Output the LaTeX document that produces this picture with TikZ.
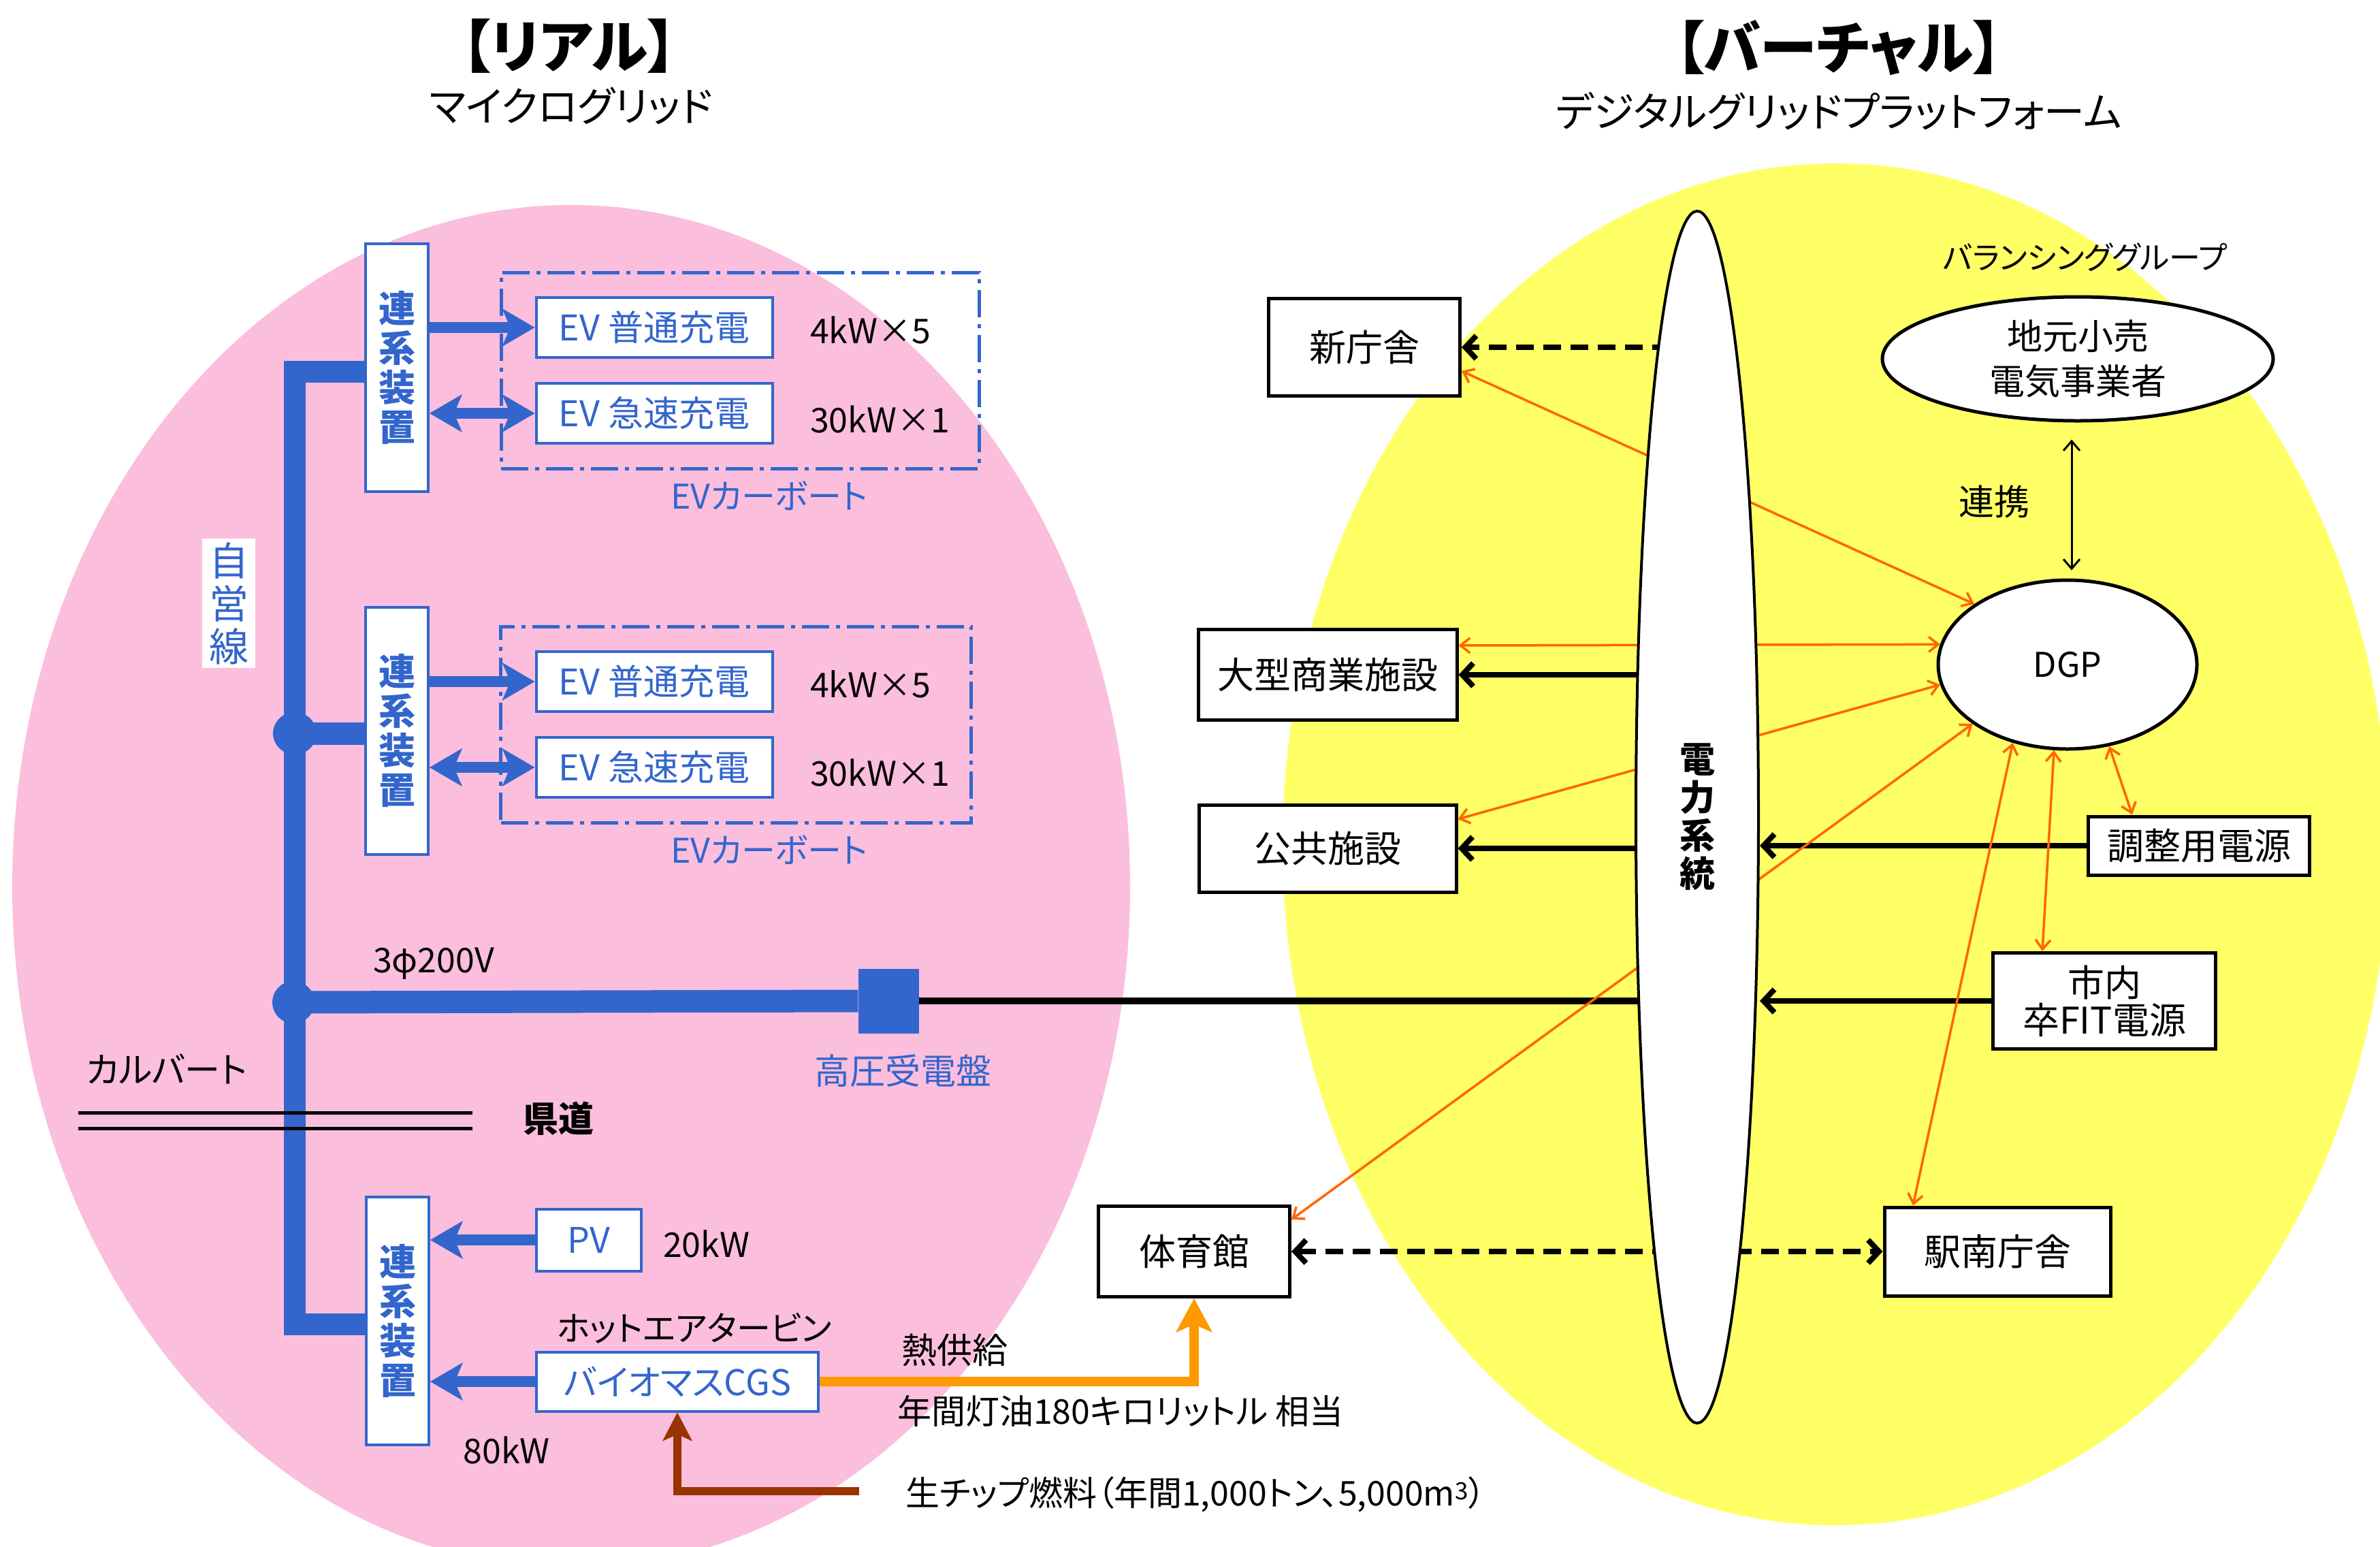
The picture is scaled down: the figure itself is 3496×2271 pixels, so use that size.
\documentclass[tikz,border=0pt]{standalone}
\usepackage{fontspec}
\setmainfont{Noto Sans CJK JP}[RawFeature=+palt]
\usetikzlibrary{arrows.meta,shapes.geometric,calc}
\pgfdeclarelayer{bg}\pgfdeclarelayer{conn}\pgfsetlayers{bg,conn,main}
\definecolor{mblue}{HTML}{3366CC}
\definecolor{mpink}{HTML}{FBBEDD}
\definecolor{myellow}{HTML}{FFFF66}
\definecolor{morange}{HTML}{FF6600}
\definecolor{mheat}{HTML}{FF9900}
\definecolor{mbrown}{HTML}{993300}
\newcommand\fz[1]{\fontsize{#1}{#1}\selectfont}
\begin{document}
\begin{tikzpicture}[x=1pt,y=-1pt,
  bluebox/.style={draw=mblue,line width=4pt,fill=white,inner sep=0pt,text=mblue},
  blackbox/.style={draw=black,line width=5pt,fill=white,inner sep=0pt,font=\fz{54}},
  lbl/.style={inner sep=0pt},
  carport/.style={draw=mblue,line width=5pt,dash pattern=on 40pt off 10pt on 6pt off 10pt,inner sep=0pt},
  bluearr/.style={mblue,line width=16pt,-{Stealth[length=48pt,width=56pt,inset=12pt,line width=1pt]}},
  bluedbl/.style={mblue,line width=16pt,{Stealth[length=48pt,width=56pt,inset=12pt,line width=1pt]}-{Stealth[length=48pt,width=56pt,inset=12pt,line width=1pt]}},
  blk/.style={line width=8pt,-{Straight Barb[length=16pt,width=34pt]}},
  blkdbl/.style={line width=8pt,{Straight Barb[length=16pt,width=34pt]}-{Straight Barb[length=16pt,width=34pt]}},
  orng/.style={morange,line width=3.5pt,{Straight Barb[length=14pt,width=22pt]}-{Straight Barb[length=14pt,width=22pt]}},
  dsh/.style={dash pattern=on 26pt off 14pt}
]
\useasboundingbox (0,0) rectangle (3496,2271);

% ---------- backgrounds ----------
\begin{pgfonlayer}{bg}
\fill[mpink] (839,1302) ellipse [x radius=821pt, y radius=1001pt];
\fill[myellow] (2696,1240) ellipse [x radius=812pt, y radius=1000pt];
\node[carport,minimum width=702pt,minimum height=288pt] (cp1) at (1087,544) {};
\node[carport,minimum width=691pt,minimum height=288pt] (cp2) at (1081,1064) {};
\end{pgfonlayer}

% ---------- titles ----------
\node[lbl,font=\fz{84}\bfseries] (t1) at (836,68) {【リアル】};
\node[lbl,font=\fz{60}] (t1b) at (839,156) {マイクログリッド};
\node[lbl,font=\fz{84}\bfseries] (t2) at (2701,70) {【バーチャル】};
\node[lbl,font=\fz{60}] (t2b) at (2701,163) {デジタルグリッドプラットフォーム};

% ---------- left: micro grid ----------
\node[bluebox,minimum width=92pt,minimum height=364pt,align=center,font=\fontsize{54}{58}\selectfont\bfseries] (box1) at (583,540) {連\\系\\装\\置};
\node[bluebox,minimum width=92pt,minimum height=363pt,align=center,font=\fontsize{54}{58}\selectfont\bfseries] (box2) at (583,1073) {連\\系\\装\\置};
\node[bluebox,minimum width=92pt,minimum height=364pt,align=center,font=\fontsize{54}{58}\selectfont\bfseries] (box3) at (584,1940) {連\\系\\装\\置};

\node[bluebox,minimum width=347pt,minimum height=88pt,font=\fz{52}] (ev1) at (961,481) {EV 普通充電};
\node[bluebox,minimum width=347pt,minimum height=88pt,font=\fz{52}] (ev2) at (961,607) {EV 急速充電};
\node[bluebox,minimum width=347pt,minimum height=88pt,font=\fz{52}] (ev3) at (961,1001) {EV 普通充電};
\node[bluebox,minimum width=347pt,minimum height=88pt,font=\fz{52}] (ev4) at (961,1127) {EV 急速充電};

\node[lbl,anchor=west,font=\fz{50}] (p1) at (1190,485) {4kW×5};
\node[lbl,anchor=west,font=\fz{50}] (p2) at (1190,616) {30kW×1};
\node[lbl,anchor=west,font=\fz{50}] (p3) at (1190,1005) {4kW×5};
\node[lbl,anchor=west,font=\fz{50}] (p4) at (1190,1135) {30kW×1};
\node[lbl,font=\fz{50},text=mblue] (cpl1) at (1130,728) {EVカーボート};
\node[lbl,font=\fz{50},text=mblue] (cpl2) at (1130,1248) {EVカーボート};

\node[fill=white,inner sep=0pt,minimum width=78pt,minimum height=190pt,align=center,font=\fontsize{58}{63}\selectfont,text=mblue] (jiei) at (336,886) {自\\営\\線};

\coordinate (busT) at (433,546);
\coordinate (busB) at (433,1945);
\node[ellipse,fill=mblue,minimum width=64pt,minimum height=62pt,inner sep=0pt] (j1) at (433,1077) {};
\node[ellipse,fill=mblue,minimum width=62pt,minimum height=62pt,inner sep=0pt] (j2) at (431,1472) {};
\node[fill=mblue,minimum width=89pt,minimum height=95pt,inner sep=0pt] (koatsu) at (1305,1470) {};

\node[lbl,font=\fz{50}] (v200) at (637,1415) {3φ200V};
\node[lbl,font=\fz{52}] (culv) at (245,1570) {カルバート};
\node[lbl,font=\fz{52}\bfseries] (kendo) at (820,1643) {県道};
\node[lbl,font=\fz{52},text=mblue] (koatsul) at (1326,1573) {高圧受電盤};

\node[bluebox,minimum width=154pt,minimum height=91pt,font=\fz{52}] (pv) at (865,1821) {PV};
\node[lbl,anchor=west,font=\fz{50}] (kw20) at (974,1827) {20kW};
\node[bluebox,minimum width=414pt,minimum height=87pt,font=\fz{52}] (cgs) at (995,2029) {バイオマスCGS};
\node[lbl,font=\fz{50}] (hat) at (1020,1951) {ホットエアタービン};
\node[lbl,font=\fz{50}] (kw80) at (744,2130) {80kW};
\node[lbl,anchor=west,font=\fz{52}] (netsu) at (1324,1983) {熱供給};
\node[lbl,anchor=west,font=\fz{50}] (toyu) at (1318,2072) {年間灯油180キロリットル 相当};
\node[lbl,anchor=west,font=\fz{50}] (chipl) at (1330,2195) {生チップ燃料（年間1,000トン、5,000m\textsuperscript{3}）};
\coordinate (chip) at (1262,2190);

% ---------- right: virtual ----------
\node[ellipse,draw,line width=4pt,fill=white,minimum width=180pt,minimum height=1780pt,inner sep=0pt] (grid) at (2493,1200) {};
\node[lbl,align=center,font=\fontsize{52}{56}\selectfont\bfseries] (gridl) at (2493,1200) {電\\力\\系\\統};

\node[blackbox,minimum width=281pt,minimum height=143pt] (shin) at (2004,510) {新庁舎};
\node[blackbox,minimum width=380pt,minimum height=133pt] (ogata) at (1950,991) {大型商業施設};
\node[blackbox,minimum width=378pt,minimum height=128pt] (kokyo) at (1950,1246) {公共施設};
\node[blackbox,minimum width=325pt,minimum height=86pt] (chosei) at (3230,1242) {調整用電源};
\node[blackbox,minimum width=327pt,minimum height=141pt,align=center,font=\fontsize{54}{55}\selectfont] (shinai) at (3091,1470) {市内\\卒FIT電源};
\node[blackbox,minimum width=332pt,minimum height=130pt] (eki) at (2934,1838) {駅南庁舎};
\node[blackbox,minimum width=281pt,minimum height=133pt] (tai) at (1754,1838) {体育館};

\node[ellipse,draw,line width=5pt,fill=white,minimum width=380pt,minimum height=248pt,inner sep=0pt,font=\fz{50}] (dgp) at (3037,976) {DGP};
\node[ellipse,draw,line width=5pt,fill=white,minimum width=574pt,minimum height=182pt,inner sep=0pt,align=center,font=\fontsize{52}{66}\selectfont] (jimoto) at (3052,527) {地元小売\\電気事業者};
\node[lbl,font=\fz{46}] (bg) at (3063,378) {バランシンググループ};
\node[lbl,font=\fz{52}] (renkei) at (2929,737) {連携};

% ---------- connectors ----------
\begin{pgfonlayer}{conn}
\draw[mblue,line width=32pt] (box1.west |- busT) -- (busT) -- (busB) -- (box3.west |- busB);
\draw[mblue,line width=33pt] (j1.center) -- (box2.west |- j1.center);
\draw[mblue,line width=33pt] (j2.center) -- (koatsu.west);
\draw[line width=5pt] (115,1634) -- (694,1634);
\draw[line width=5pt] (115,1657) -- (694,1657);

\draw[bluearr] (box1.east |- ev1.west) -- (ev1.west);
\draw[bluedbl] (box1.east |- ev2.west) -- (ev2.west);
\draw[bluearr] (box2.east |- ev3.west) -- (ev3.west);
\draw[bluedbl] (box2.east |- ev4.west) -- (ev4.west);
\draw[bluearr] (pv.west) -- (box3.east |- pv.west);
\draw[bluearr] (cgs.west) -- (box3.east |- cgs.west);

\draw[mheat,line width=14pt,-{Stealth[length=50pt,width=54pt,inset=12pt,line width=1pt]}] (cgs.east) -| (tai.south);
\draw[mbrown,line width=12pt,-{Stealth[length=42pt,width=44pt,inset=10pt,line width=1pt]}] (chip) -| (cgs.south);

\draw[line width=10pt] (koatsu.east) -- (grid.center |- koatsu.east);
\draw[blk,dsh] (grid.center |- shin.east) -- (shin.east);
\draw[blk] (grid.center |- ogata.east) -- (ogata.east);
\draw[blk] (grid.center |- kokyo.east) -- (kokyo.east);
\draw[blk] (chosei.west) -- (grid.east |- chosei.west);
\draw[blk] (shinai.west) -- (grid.east |- shinai.west);
\draw[blkdbl,dsh] (tai.east) -- (eki.west);

\draw[orng] (shin.east |- 0,545) -- (dgp.147);
\draw[orng] (ogata.east |- 0,948) -- (dgp.171);
\draw[orng] (kokyo.east |- 0,1203) -- (dgp.189);
\draw[orng] (tai.east |- 0,1791) -- (dgp.212);
\draw[orng] (dgp.297) -- (3132,0 |- chosei.north);
\draw[orng] (dgp.261) -- (3000,0 |- shinai.north);
\draw[orng] (dgp.235) -- (2810,0 |- eki.north);

\draw[line width=3pt,{Straight Barb[length=14pt,width=24pt]}-{Straight Barb[length=14pt,width=24pt]},shorten <=25pt,shorten >=12pt] (3043,0 |- jimoto.south) -- (3043,0 |- dgp.north);
\end{pgfonlayer}
\end{tikzpicture}
\end{document}
